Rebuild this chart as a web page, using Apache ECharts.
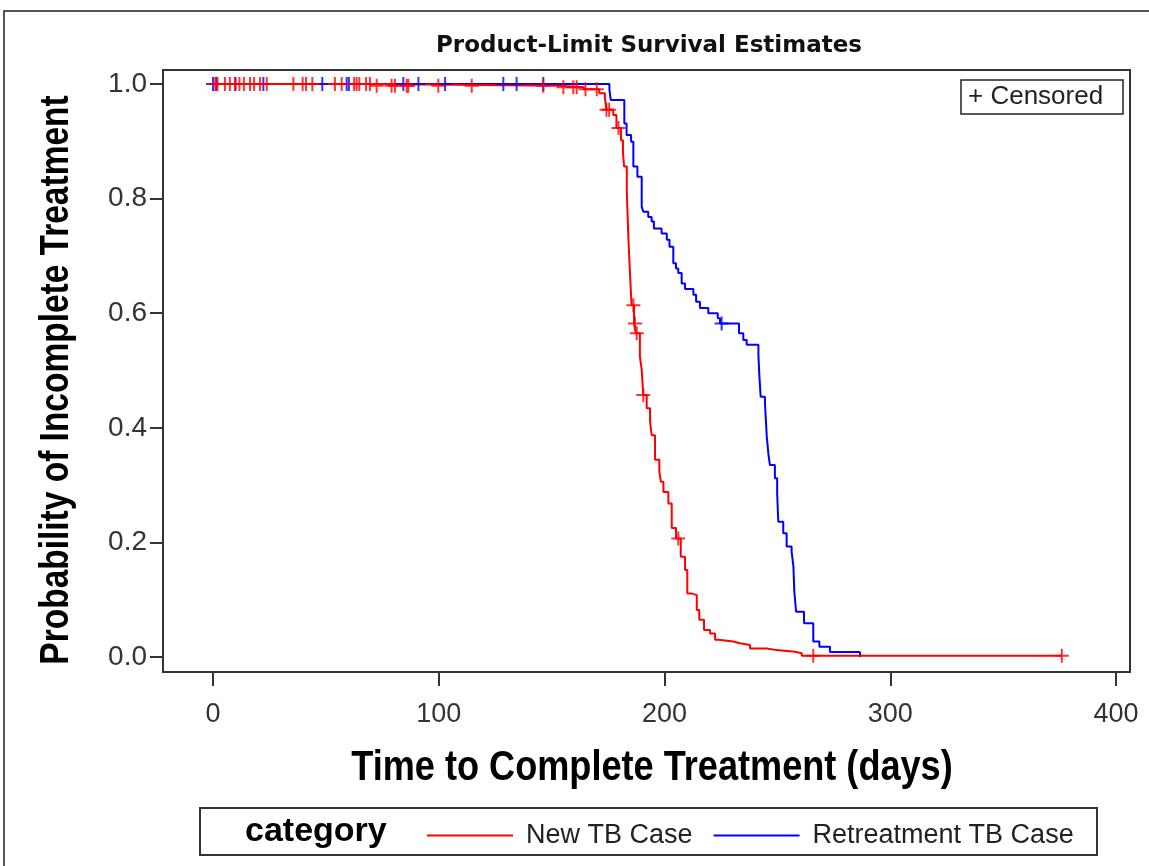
<!DOCTYPE html>
<html>
<head>
<meta charset="utf-8">
<script src="https://cdn.jsdelivr.net/npm/echarts@6/dist/echarts.min.js"></script>
<style>
html,body{margin:0;padding:0;background:#fff;}
#chart{width:1149px;height:866px;}
</style>
</head>
<body>
<div id="chart"></div>
<script>
// ---------- data ----------
const chartTitle = 'Product-Limit Survival Estimates';
const xTitle = 'Time to Complete Treatment (days)';
const yTitle = 'Probability of Incomplete Treatment';
const groupNames = ['New TB Case', 'Retreatment TB Case'];
const xTickValues = [0, 100, 200, 300, 400];
const yTickValues = [0, 0.2, 0.4, 0.6, 0.8, 1.0];
// axis extents of the plot frame (a little padding around the tick range)
const xRange = [-22.15, 406.2];
const yRange = [-0.0262, 1.0244];

// New TB Case: event times and survival after each event
const newTimes = [0, 71, 153, 164.3, 171.1, 173.6, 174.3, 177.3, 178.7, 180.7, 181.6, 182.1, 183.3, 184.0, 184.7, 185.4, 186.5, 187.3, 189.1, 189.9, 190.6, 192.1, 193.6, 194.3, 195.8, 197.7, 198.4, 199.5, 201.7, 203.2, 205.1, 207.2, 209.1, 210.1, 212.0, 214.3, 215.4, 217.5, 220.2, 222.4, 223.8, 230.5, 233.4, 237.9, 245.3, 249.7, 257.8, 260.8];
const newSurv  = [1.0, 0.997, 0.9945, 0.991, 0.984, 0.975, 0.955, 0.946, 0.923, 0.902, 0.879, 0.856, 0.812, 0.731, 0.670, 0.614, 0.582, 0.565, 0.524, 0.501, 0.457, 0.434, 0.411, 0.387, 0.344, 0.323, 0.306, 0.288, 0.268, 0.225, 0.207, 0.175, 0.152, 0.111, 0.108, 0.082, 0.065, 0.047, 0.041, 0.030, 0.027, 0.024, 0.021, 0.015, 0.012, 0.0093, 0.0064, 0.0023];
const newCensor = [1, 2, 5.3, 7.5, 9.7, 11.7, 13.7, 16.4, 18.2, 20.8, 23.8, 35.6, 39.7, 41.2, 44, 54, 57, 62.5, 63.6, 64.8, 67.8, 69.5, 72.5, 79.1, 80.6, 85.8, 86.5, 99.8, 114.6, 146.3, 155.2, 159.6, 161.1, 165, 170, 174.3, 175.5, 179.6, 186.2, 186.9, 187.7, 190.6, 206.1, 265.9, 376];

// Retreatment TB Case
const reTimes = [0, 175.6, 176.2, 182.2, 183.2, 185.2, 186.2, 188.0, 189.9, 190.6, 192.8, 194.3, 195.3, 198.7, 201.0, 202.2, 203.9, 205.1, 206.1, 207.6, 209.1, 212.8, 214.0, 215.7, 219.4, 223.6, 224.6, 233.0, 234.9, 236.4, 241.6, 242.0, 242.6, 244.5, 245.3, 246.0, 246.7, 248.9, 249.9, 250.4, 252.6, 254.1, 256.3, 257.1, 257.5, 258.3, 261.8, 265.9, 268.6, 273.3, 286.6];
const reSurv  = [1.0, 0.990, 0.972, 0.931, 0.911, 0.899, 0.856, 0.838, 0.786, 0.777, 0.768, 0.760, 0.748, 0.739, 0.728, 0.716, 0.687, 0.678, 0.670, 0.652, 0.642, 0.632, 0.620, 0.609, 0.600, 0.591, 0.582, 0.565, 0.553, 0.545, 0.527, 0.492, 0.454, 0.443, 0.385, 0.355, 0.335, 0.312, 0.286, 0.236, 0.216, 0.193, 0.184, 0.158, 0.114, 0.079, 0.059, 0.027, 0.018, 0.0085, 0];
const reCensor = [0, 1.5, 10, 22.3, 48.4, 59.2, 60.2, 84.3, 91, 102.8, 128.6, 134.5, 146.3, 225.3];

// ---------- helpers ----------
function survAt(times, surv, t) {
  let s = surv[0];
  for (let i = 0; i < times.length; i++) { if (times[i] <= t) s = surv[i]; }
  return s;
}
function curve(times, surv, censor) {
  const d = times.map((t, i) => [t, surv[i]]);
  const lastC = Math.max.apply(null, censor);
  if (lastC > times[times.length - 1]) d.push([lastC, surv[surv.length - 1]]);
  return d;
}
function marks(times, surv, censor) {
  return censor.map(t => [t, survAt(times, surv, t)]);
}

const RED = '#ff0000', BLUE = '#0000ff';
const plusPath = 'path://M6,0h2v6h6v2h-6v6h-2v-6h-6v-2h6z';
const FONT = 'Liberation Sans, Arial, sans-serif';

const chart = echarts.init(document.getElementById('chart'), null, {renderer: 'canvas'});
chart.setOption({
  animation: false,
  backgroundColor: '#fff',
  grid: {left: 163, right: 19, top: 70, bottom: 194, containLabel: false,
         show: true, borderColor: '#333', borderWidth: 2, backgroundColor: 'transparent'},
  xAxis: {
    type: 'value', min: xRange[0], max: xRange[1],
    axisLine: {show: true, onZero: false, lineStyle: {color: '#333', width: 2}},
    axisTick: {show: true, length: 14, customValues: xTickValues, lineStyle: {color: '#333', width: 2}},
    axisLabel: {margin: 29, fontSize: 27, color: '#333', fontFamily: FONT, customValues: xTickValues},
    splitLine: {show: false}
  },
  yAxis: {
    type: 'value', min: yRange[0], max: yRange[1],
    axisLine: {show: true, onZero: false, lineStyle: {color: '#333', width: 2}},
    axisTick: {show: true, length: 13, customValues: yTickValues, lineStyle: {color: '#333', width: 2}},
    axisLabel: {margin: 16, fontSize: 28, color: '#333', fontFamily: FONT, customValues: yTickValues,
                formatter: v => v.toFixed(1)},
    splitLine: {show: false}
  },
  legend: {
    data: [groupNames[0], groupNames[1]],
    left: 422, top: 817,
    icon: 'rect', itemWidth: 86, itemHeight: 2, itemGap: 21,
    textStyle: {fontSize: 27, color: '#222', fontFamily: FONT, padding: [0, 0, 0, 8]}
  },
  series: [
    {name: groupNames[1], type: 'line', step: 'end', symbol: 'none', color: BLUE,
     lineStyle: {width: 2, color: BLUE}, data: curve(reTimes, reSurv, reCensor), z: 2},
    {name: groupNames[0], type: 'line', step: 'end', symbol: 'none', color: RED,
     lineStyle: {width: 2, color: RED}, data: curve(newTimes, newSurv, newCensor), z: 3},
    {name: 'reCensored', type: 'scatter', symbol: plusPath, symbolSize: 14,
     itemStyle: {color: BLUE}, data: marks(reTimes, reSurv, reCensor), z: 4},
    {name: 'newCensored', type: 'scatter', symbol: plusPath, symbolSize: 14,
     itemStyle: {color: RED}, data: marks(newTimes, newSurv, newCensor), z: 5}
  ],
  graphic: [
    // outer image frame
    {type: 'polyline', shape: {points: [[4, 866], [4, 11], [1149, 11]]}, style: {stroke: '#555', lineWidth: 2, fill: null}, silent: true},
    // title
    {type: 'text', x: 649, y: 46, style: {text: chartTitle, font: 'bold 23px DejaVu Sans, sans-serif', fill: '#111', textAlign: 'center', textVerticalAlign: 'middle'}},
    // axis titles (condensed bold, as in the reference)
    {type: 'text', x: 652, y: 768, scaleX: 0.86, style: {text: xTitle, font: 'bold 42px ' + FONT, fill: '#000', textAlign: 'center', textVerticalAlign: 'middle'}},
    {type: 'text', x: 57, y: 380, rotation: Math.PI / 2, scaleX: 0.837, style: {text: yTitle, font: 'bold 40px ' + FONT, fill: '#000', textAlign: 'center', textVerticalAlign: 'middle'}},
    // censored inset
    {type: 'rect', shape: {x: 961, y: 80, width: 162, height: 34}, style: {stroke: '#222', lineWidth: 1.5, fill: '#fff'}, z: 10},
    {type: 'text', x: 968, y: 97, z: 11, style: {text: '+ Censored', font: '26px ' + FONT, fill: '#222', textAlign: 'left', textVerticalAlign: 'middle'}},
    // legend frame and heading
    {type: 'rect', shape: {x: 200, y: 808, width: 897, height: 47}, style: {stroke: '#333', lineWidth: 2, fill: null}},
    {type: 'text', x: 245, y: 832, style: {text: 'category', font: 'bold 34px ' + FONT, fill: '#000', textAlign: 'left', textVerticalAlign: 'middle'}}
  ]
});
</script>
</body>
</html>
